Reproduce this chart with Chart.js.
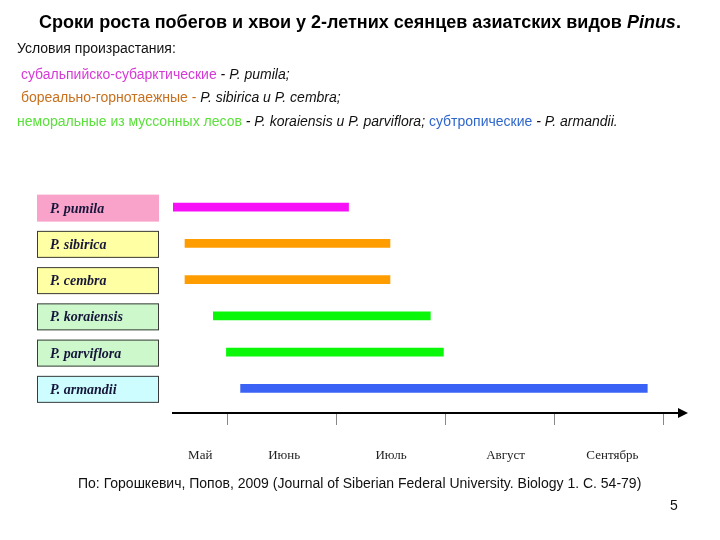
<!DOCTYPE html>
<html>
<head>
<meta charset="utf-8">
<script src="https://cdn.jsdelivr.net/npm/chart.js@4"></script>
<style>
    body { margin: 0; background: #fff; }
    #page { position: relative; width: 720px; height: 540px; overflow: hidden; }
    #growthChart { position: absolute; left: 0; top: 0; }
    .txt { position: absolute; white-space: nowrap; font-family: 'Liberation Sans', Arial, sans-serif; font-size: 14px; line-height: 20px; color: #111; }
    .title { left: 0; width: 720px; text-align: center; font-weight: bold; font-size: 18px; color: #000; }
    .i { font-style: italic; }
    .mag { color: #d63ad6; }
    .brn { color: #c8701e; }
    .grn { color: #5be03c; }
    .blu { color: #2f66cc; }
</style>
</head>
<body>
<div id="page">
    <canvas id="growthChart" width="720" height="540"></canvas>
    <div class="txt title" style="top:12px; left:0px;">Сроки роста побегов и хвои у 2-летних сеянцев азиатских видов <i>Pinus</i>.</div>
    <div class="txt" style="left:17px; top:38px;">Условия произрастания:</div>
    <div class="txt" style="left:17px; top:64px;">&nbsp;<span class="mag">субальпийско-субарктические</span> <span class="i">- P. pumila;</span></div>
    <div class="txt" style="left:17px; top:87px;">&nbsp;<span class="brn">бореально-горнотаежные -</span> <span class="i">P. sibirica и P. cembra;</span></div>
    <div class="txt" style="left:17px; top:111px;"><span class="grn">неморальные из муссонных лесов</span> <span class="i">- P. koraiensis и P. parviflora;</span> <span class="blu">субтропические</span> <span class="i">- P. armandii.</span></div>
    <div class="txt" style="left:78px; top:473px;">По: Горошкевич, Попов, 2009 (Journal of Siberian Federal University. Biology 1. С. 54-79)</div>
    <div class="txt" style="left:670px; top:495px;">5</div>
</div>
<script>
// months counted from 1 May (0 = 1 May, 1 = 1 June, ...)
const species = ['P. pumila', 'P. sibirica', 'P. cembra', 'P. koraiensis', 'P. parviflora', 'P. armandii'];
const growthStart = [0.50, 0.61, 0.61, 0.87, 0.99, 1.12];
const growthEnd = [2.11, 2.49, 2.49, 2.86, 2.98, 4.85];
const months = ['Май', 'Июнь', 'Июль', 'Август', 'Сентябрь'];
const monthMid = [0.75, 1.52, 2.5, 3.55, 4.53];
const monthBounds = [1, 2, 3, 4, 5];

const barColors = ['#f70ff7', '#ff9c00', '#ff9c00', '#0af70a', '#0af70a', '#3a62f5'];
const boxColors = ['#f9a3cb', '#ffffa3', '#ffffa3', '#ccf8cc', '#ccf8cc', '#cdfdff'];

const labelBoxes = {
    id: 'labelBoxes',
    afterDraw(chart) {
        const ctx = chart.ctx;
        const y = chart.scales.y;
        ctx.save();
        species.forEach((name, i) => {
            const cy = y.getPixelForValue(i) + 1;
            ctx.fillStyle = boxColors[i];
            ctx.fillRect(37, cy - 13.5, 122, 27);
            if (i > 0) {
                ctx.strokeStyle = '#3a3a3a';
                ctx.lineWidth = 1;
                ctx.strokeRect(37.5, cy - 13, 121, 26);
            }
            ctx.fillStyle = '#16163a';
            ctx.font = 'italic bold 14px "Liberation Serif", "Times New Roman", serif';
            ctx.textBaseline = 'middle';
            ctx.fillText(name, 50, cy + 1);
        });

        // arrow head at the end of the time axis
        const a = chart.chartArea;
        ctx.fillStyle = '#000';
        ctx.beginPath();
        ctx.moveTo(a.right - 2, a.bottom - 5);
        ctx.lineTo(a.right + 8, a.bottom);
        ctx.lineTo(a.right - 2, a.bottom + 5);
        ctx.closePath();
        ctx.fill();
        ctx.restore();
    }
};

const monthFont = { family: '"Liberation Serif", "Times New Roman", serif', size: 13 };

new Chart(document.getElementById('growthChart'), {
    type: 'bar',
    data: {
        datasets: [{
            data: species.map((s, i) => ({ x: [growthStart[i], growthEnd[i]], y: i })),
            backgroundColor: barColors,
            barThickness: 8,
            borderSkipped: false,
            xAxisID: 'x'
        }]
    },
    options: {
        indexAxis: 'y',
        responsive: false,
        animation: false,
        layout: { padding: { left: 173, right: 40, top: 189, bottom: 69 } },
        plugins: { legend: { display: false }, tooltip: { enabled: false } },
        scales: {
            y: {
                type: 'linear',
                reverse: true,
                offset: false,
                min: -0.5,
                max: 5.68,
                ticks: { display: false },
                grid: { display: false, offset: false },
                border: { display: false },
                afterFit: s => { s.width = 0; }
            },
            x: {
                type: 'linear',
                position: 'bottom',
                min: 0.5,
                max: 5.15,
                afterBuildTicks: axis => { axis.ticks = monthBounds.map(v => ({ value: v })); },
                afterFit: s => { s.height = 12; },
                border: { display: true, color: '#000', width: 2 },
                grid: { drawOnChartArea: false, drawTicks: true, tickLength: 12, color: '#888', lineWidth: 1 },
                ticks: { display: false }
            },
            x2: {
                type: 'linear',
                position: 'bottom',
                min: 0.5,
                max: 5.15,
                afterBuildTicks: axis => { axis.ticks = monthMid.map(v => ({ value: v })); },
                afterFit: s => { s.height = 46; },
                border: { display: false },
                grid: { display: false },
                ticks: {
                    autoSkip: false,
                    maxRotation: 0,
                    padding: 15,
                    color: '#222',
                    font: monthFont,
                    callback: v => months[monthMid.indexOf(v)]
                }
            }
        }
    },
    plugins: [labelBoxes]
});
</script>
</body>
</html>
